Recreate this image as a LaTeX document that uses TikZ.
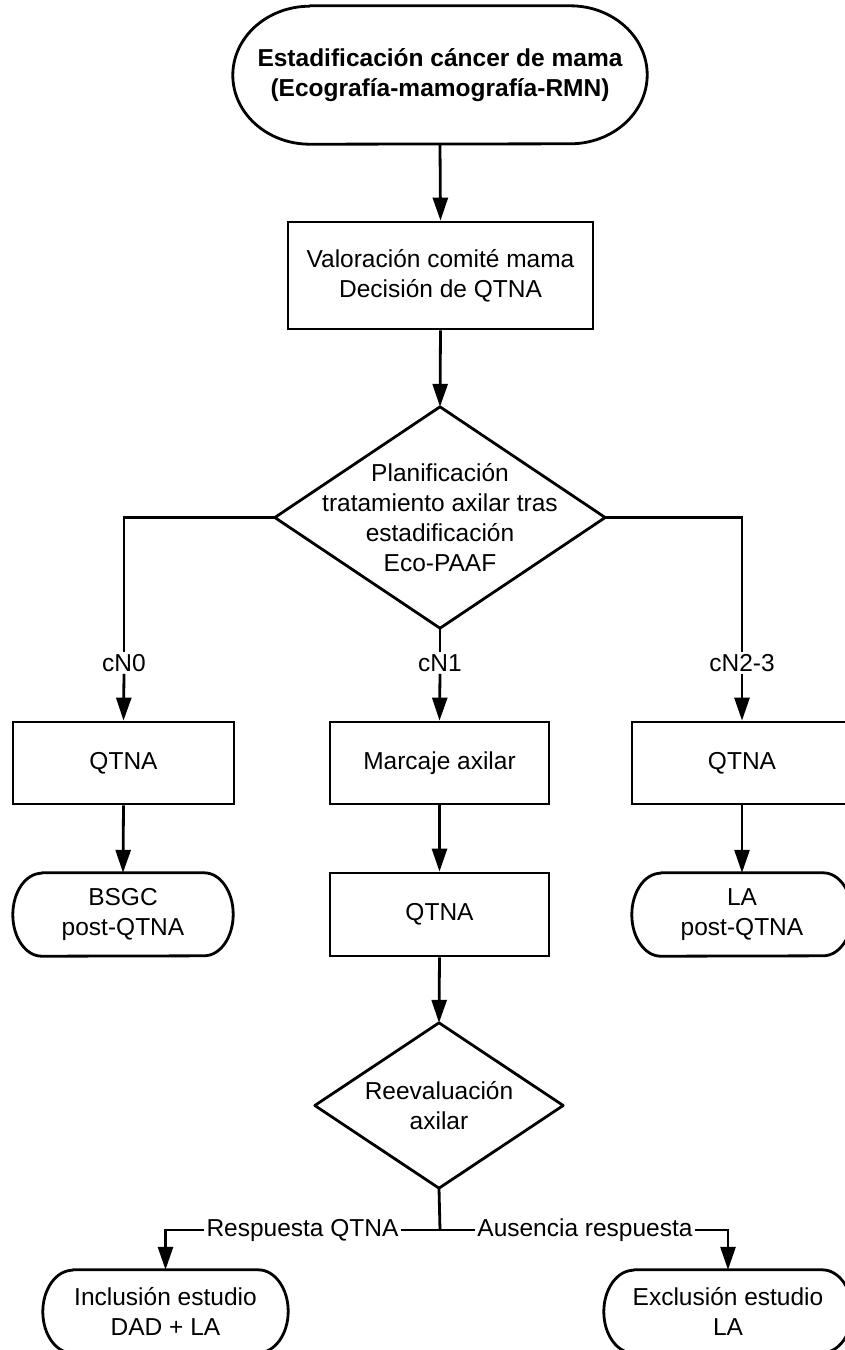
\documentclass[tikz,border=0pt]{standalone}
\usepackage{fontspec}
\setmainfont{Liberation Sans}
\usetikzlibrary{arrows.meta}
\tikzset{
  base/.style={inner sep=0pt, align=center, font=\fontsize{24.5}{30}\selectfont},
  boxnode/.style={base, draw, line width=2.8pt, minimum width=#1},
  plainnode/.style={base, minimum width=#1},
  lbl/.style={base, fill=white, inner sep=2pt},
  conn/.style={line width=2.8pt},
  arr/.style={conn, -{Triangle[length=23pt,width=15pt]}},
  outline/.style={line width=2.8pt, line join=round}
}
\newcommand\termoutline[3]{%
  \draw[outline] ([xshift=#2]#1.north west) -- ([xshift=-#2]#1.north east)
    arc[start angle=90,end angle=-90,x radius=#2,y radius=#3]
    -- ([xshift=#2]#1.south west)
    arc[start angle=270,end angle=90,x radius=#2,y radius=#3] -- cycle;}
\newcommand\diamoutline[1]{%
  \draw[outline] (#1.north) -- (#1.east) -- (#1.south) -- (#1.west) -- cycle;}
\begin{document}
\begin{tikzpicture}[x=1pt,y=-1pt]
\useasboundingbox (0,0) rectangle (845,1350);
\clip (0,0) rectangle (845,1350);
\fill[white] (0,0) rectangle (845,1350);

% nodes
\node[plainnode=414pt, minimum height=138pt, font=\fontsize{24.5}{30}\selectfont\bfseries] (top) at (440,75) {Estadificación cáncer de mama\\(Ecografía-mamografía-RMN)};
\node[boxnode=305pt, minimum height=107pt] (val) at (440.5,275.5) {Valoración comité mama\\Decisión de QTNA};
\node[plainnode=330pt, minimum height=221pt] (plan) at (440,517.5) {Planificación\\tratamiento axilar tras\\estadificación\\Eco-PAAF};
\node[lbl] (c0) at (124,663) {cN0};
\node[lbl] (c1) at (440,663) {cN1};
\node[lbl] (c2) at (742,663) {cN2-3};
\node[boxnode=221pt, minimum height=82pt] (q0) at (123.5,763) {QTNA};
\node[boxnode=219pt, minimum height=82pt] (mar) at (439.5,763) {Marcaje axilar};
\node[boxnode=220pt, minimum height=82pt] (q2) at (742,763) {QTNA};
\node[plainnode=220pt, minimum height=83pt] (bsgc) at (123,914.5) {BSGC\\post-QTNA};
\node[boxnode=219pt, minimum height=83pt] (q1) at (439.5,914.5) {QTNA};
\node[plainnode=220pt, minimum height=83pt] (la) at (742,914.5) {LA\\post-QTNA};
\node[plainnode=248pt, minimum height=165pt] (reev) at (439,1105.5) {Reevaluación\\axilar};
\coordinate (j) at (440,1230);
\node[lbl] (resp) at (302.5,1230) {Respuesta QTNA};
\node[lbl] (aus) at (585,1230) {Ausencia respuesta};
\node[plainnode=245pt, minimum height=83pt] (inc) at (165.5,1311.5) {Inclusión estudio\\DAD + LA};
\node[plainnode=248pt, minimum height=83pt] (exc) at (728,1311.5) {Exclusión estudio\\LA};

% outlines
\termoutline{top}{77pt}{69pt}
\diamoutline{plan}
\termoutline{bsgc}{29pt}{41.5pt}
\termoutline{la}{29pt}{41.5pt}
\diamoutline{reev}
\termoutline{inc}{30pt}{41.5pt}
\termoutline{exc}{30pt}{41.5pt}

% connectors
\draw[arr] (top.south) -- (val.north);
\draw[arr] (val.south) -- (plan.north);
\draw[conn] (plan.west) -| (c0.north);
\draw[arr] (c0.south) -- (q0.north);
\draw[conn] (plan.south) -- (c1.north);
\draw[arr] (c1.south) -- (mar.north);
\draw[conn] (plan.east) -| (c2.north);
\draw[arr] (c2.south) -- (q2.north);
\draw[arr] (q0.south) -- (bsgc.north);
\draw[arr] (mar.south) -- (q1.north);
\draw[arr] (q2.south) -- (la.north);
\draw[arr] (q1.south) -- (reev.north);
\draw[conn] (reev.south) -- (j);
\draw[conn] (j) -- (resp.east);
\draw[conn] (j) -- (aus.west);
\draw[arr] (resp.west) -| (inc.north);
\draw[arr] (aus.east) -| (exc.north);
\end{tikzpicture}
\end{document}
